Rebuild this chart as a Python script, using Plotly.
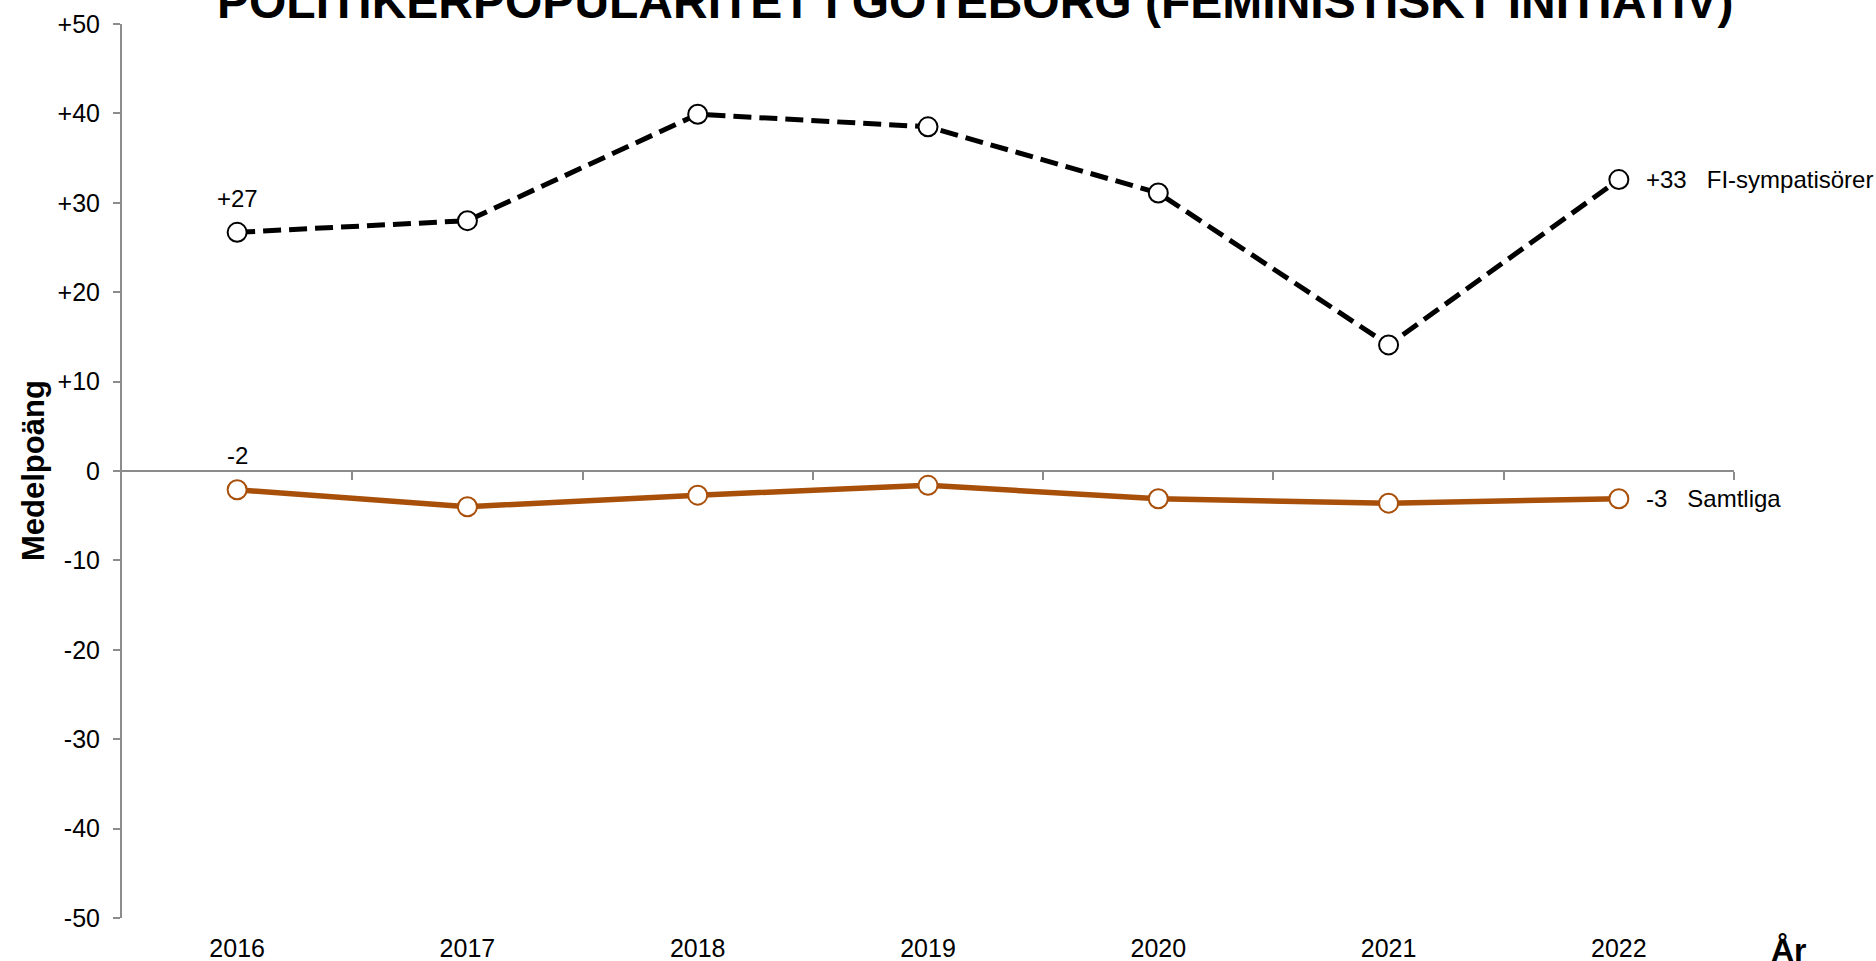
import plotly.graph_objects as go

years = ["2016", "2017", "2018", "2019", "2020", "2021", "2022"]
fi_values = [26.7, 28.0, 39.9, 38.5, 31.1, 14.1, 32.6]
all_values = [-2.1, -4.0, -2.7, -1.6, -3.1, -3.6, -3.1]
fi_name = "FI-sympatisörer"
all_name = "Samtliga"
y_tickvals = [50, 40, 30, 20, 10, 0, -10, -20, -30, -40, -50]
y_ticktext = ["+50", "+40", "+30", "+20", "+10", "0", "-10", "-20", "-30", "-40", "-50"]
title_text = "POLITIKERPOPULARITET I GÖTEBORG (FEMINISTISKT INITIATIV)"
y_title = "Medelpoäng"
x_title = "År"

FONT = "Liberation Sans, Arial, sans-serif"
ORANGE = "#A84F0A"
GRAY = "#8C8C8C"

xpos = list(range(len(years)))


def fmt(v):
    r = int(round(v))
    return f"+{r}" if r > 0 else f"{r}"


fig = go.Figure()

fig.add_trace(go.Scatter(
    x=xpos, y=fi_values, mode="lines+markers", name=fi_name,
    line=dict(color="black", width=5, dash="18px,8px"),
    marker=dict(symbol="circle", size=19, color="white",
                line=dict(color="black", width=2)),
    showlegend=False, cliponaxis=False,
))
fig.add_trace(go.Scatter(
    x=xpos, y=all_values, mode="lines+markers", name=all_name,
    line=dict(color=ORANGE, width=5.5),
    marker=dict(symbol="circle", size=19, color="white",
                line=dict(color=ORANGE, width=2)),
    showlegend=False, cliponaxis=False,
))
# invisible trace to activate the zero-line axis
fig.add_trace(go.Scatter(
    x=xpos, y=[None] * len(xpos), xaxis="x2", yaxis="y",
    mode="lines", showlegend=False, hoverinfo="skip",
))

LBL = dict(family=FONT, size=24, color="black")
annotations = []
annotations.append(dict(x=xpos[0], y=fi_values[0], xref="x", yref="y",
                        text=fmt(fi_values[0]), showarrow=False, yshift=34,
                        font=LBL))
annotations.append(dict(x=xpos[0], y=all_values[0], xref="x", yref="y",
                        text=fmt(all_values[0]), showarrow=False, yshift=34,
                        font=LBL))
annotations.append(dict(x=xpos[-1], y=fi_values[-1], xref="x", yref="y",
                        text=fmt(fi_values[-1]) + "\u00a0\u00a0\u00a0" + fi_name,
                        showarrow=False, xanchor="left", xshift=25,
                        font=LBL))
annotations.append(dict(x=xpos[-1], y=all_values[-1], xref="x", yref="y",
                        text=fmt(all_values[-1]) + "\u00a0\u00a0\u00a0" + all_name,
                        showarrow=False, xanchor="left", xshift=25,
                        font=LBL))
annotations.append(dict(x=0.529, y=1.025, xref="paper", yref="paper",
                        text="<b>" + title_text + "</b>", showarrow=False,
                        xanchor="center", yanchor="middle",
                        font=dict(family=FONT, size=48, color="black")))
annotations.append(dict(x=-0.0552, y=0.5, xref="paper", yref="paper",
                        text="<b>" + y_title + "</b>", showarrow=False,
                        textangle=-90, xanchor="center", yanchor="middle",
                        font=dict(family=FONT, size=31, color="black")))
annotations.append(dict(x=1.034, y=-0.036, xref="paper", yref="paper",
                        text="<b>" + x_title + "</b>", showarrow=False,
                        xanchor="center", yanchor="middle",
                        font=dict(family=FONT, size=32, color="black")))

fig.update_layout(
    width=1876, height=961,
    margin=dict(l=122, r=142, t=24, b=43),
    paper_bgcolor="white", plot_bgcolor="white",
    font=dict(family=FONT, size=25, color="black"),
    xaxis=dict(
        range=[-0.5, len(years) - 0.5], tickvals=xpos, ticktext=years,
        showline=False, showgrid=False, zeroline=False, ticks="",
        ticklabelstandoff=13, tickfont=dict(family=FONT, size=25),
        automargin=False,
    ),
    xaxis2=dict(
        overlaying="x", anchor="free", position=0.5, side="bottom",
        range=[-0.5, len(years) - 0.5],
        tickvals=[i + 0.5 for i in xpos], showticklabels=False,
        showline=True, linecolor=GRAY, linewidth=2,
        ticks="outside", ticklen=8, tickwidth=2, tickcolor=GRAY,
        showgrid=False, zeroline=False, automargin=False,
    ),
    yaxis=dict(
        range=[-50, 50], tickvals=y_tickvals, ticktext=y_ticktext,
        showline=True, linecolor=GRAY, linewidth=2,
        ticks="outside", ticklen=7, tickwidth=2, tickcolor=GRAY,
        showgrid=False, zeroline=False, ticklabelstandoff=8,
        tickfont=dict(family=FONT, size=25), automargin=False,
    ),
    annotations=annotations,
)

fig.write_html(
    "out.html",
    config={"displayModeBar": False},
    post_script="document.body.style.margin='0';document.body.style.overflow='hidden';",
)
